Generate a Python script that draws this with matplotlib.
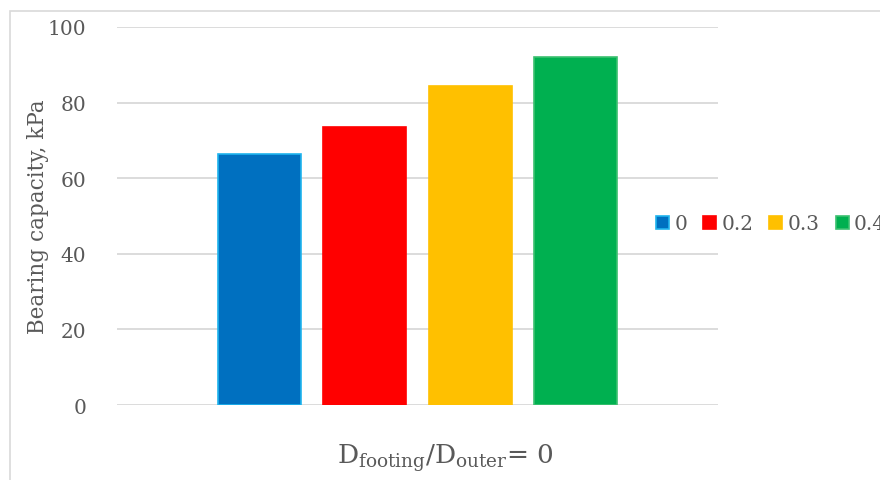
import numpy as np
import matplotlib.pyplot as plt
from matplotlib.patches import Rectangle

# data
ratios = ['0', '0.2', '0.3', '0.4']
capacity = [66.5, 73.5, 84.3, 92.1]
colors = ['#0070C0', '#FF0000', '#FFC000', '#00B050']
edges = ['#1FB4EE', '#FF0000', '#FFC000', '#3CC070']

plt.rcParams['font.family'] = ['DejaVu Serif']
plt.rcParams['mathtext.fontset'] = 'dejavuserif'
txt = '#595959'

fig = plt.figure(figsize=(8.8, 4.81), dpi=100)
# chart border
fig.patches.append(Rectangle((10/880, -0.1), 1.0, 1 - 12/481 + 0.1, transform=fig.transFigure,
                             fill=False, ec='#D9D9D9', lw=1.2))
ax = fig.add_axes([117/880, 1-406/481, 601/880, 378/481])

offs = np.arange(len(ratios)) - 1.5
for i in range(len(ratios)):
    ax.bar(offs[i], capacity[i], width=0.79, color=colors[i], edgecolor=edges[i],
           lw=1.2, label=ratios[i], zorder=3)

ax.set_xlim(-2.855, 2.855)
ax.set_ylim(0, 100)
ax.set_yticks([0, 20, 40, 60, 80, 100])
ax.set_xticks([])
ax.grid(axis='y', color='#D9D9D9', lw=1.3, zorder=0)
for s in ax.spines.values():
    s.set_visible(False)
ax.tick_params(axis='y', length=0, pad=22, labelsize=14.5, labelcolor=txt)
ax.set_ylabel('Bearing capacity, kPa', fontsize=15.5, color=txt)
ax.yaxis.set_label_coords(-0.113, 0.5)

fig.text(445/880, 1-458/481, r'$\mathrm{D_{footing}/D_{outer}}$= 0', fontsize=19,
         color=txt, ha='center', va='center')

fig.legend(loc='center left', bbox_to_anchor=(656/880, 1-225/481), ncol=4, frameon=False,
           fontsize=14.5, labelcolor=txt, handlelength=0.65, handleheight=0.65,
           handletextpad=0.25, columnspacing=0.8, borderaxespad=0, borderpad=0)

fig.savefig('out.png', dpi=100)
